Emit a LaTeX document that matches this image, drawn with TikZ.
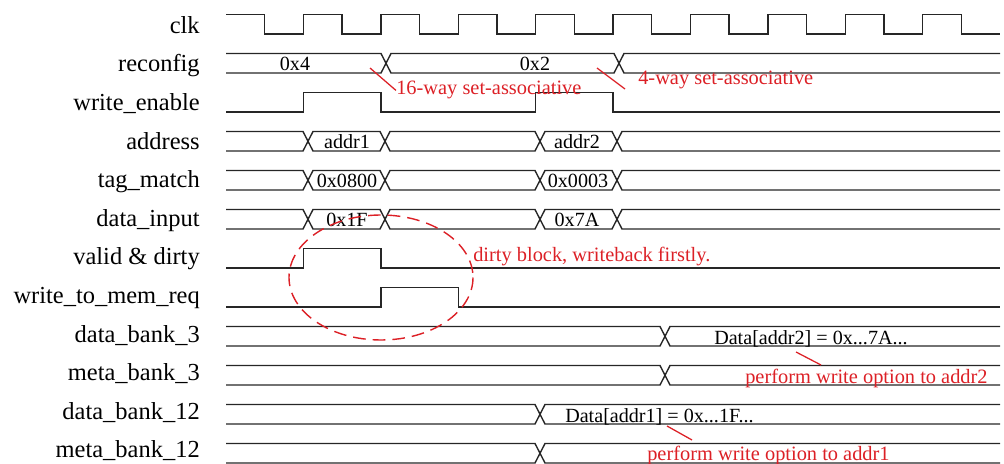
\documentclass[tikz,border=0pt]{standalone}
\usepackage{fontspec}
\setmainfont{Liberation Serif}
\usepackage{tikz}
\usepackage{xcolor}
\definecolor{annot}{RGB}{220,32,38}

\tikzset{
  sig/.style={line width=1pt, black!85},
  lbl/.style={anchor=base east, inner sep=0pt, font=\fontsize{17.4}{20}\selectfont},
  val/.style={anchor=base, inner sep=0pt, font=\fontsize{14.3}{16}\selectfont},
  valw/.style={anchor=base west, inner sep=0pt, font=\fontsize{14.3}{16}\selectfont},
  note/.style={anchor=base west, inner sep=0pt, text=annot, font=\fontsize{14.5}{16}\selectfont},
  lead/.style={draw=annot, line width=0.9pt},
}

\begin{document}
\begin{tikzpicture}[x=0.025cm, y=-0.025cm]
  \useasboundingbox (0,0) rectangle (1004,464);

  % signal names
  \foreach \name [count=\i from 0] in {clk, reconfig, write\_enable, address, tag\_match,
      data\_input, valid \& dirty, write\_to\_mem\_req, data\_bank\_3, meta\_bank\_3,
      data\_bank\_12, meta\_bank\_12}
    \node[lbl] (lbl\i) at (200, 33.3+38.6*\i) {\name};

  % clk
  \draw[sig] (226,14.5) foreach \k in {1,...,9} { -- ++(38.7,0) -- ++(0,19.5) -- ++(38.7,0) -- ++(0,-19.5) }
    -- ++(38.7,0) -- ++(0,19.5) -- ++(38.7,0);

  % reconfig
  \draw[sig] (226,53.5) -- (381,53.5) -- (391,73) -- (614,73) -- (624,53.5) -- (1000,53.5);
  \draw[sig] (226,73) -- (381,73) -- (391,53.5) -- (614,53.5) -- (624,73) -- (1000,73);
  \node[val] (cfg4) at (295,71) {0x4};
  \node[val] (cfg2) at (535,71) {0x2};

  % write_enable
  \draw[sig] (226,112) -| (303.4,92.5) -| (380.8,112) -| (535.6,92.5) -| (613,112) -- (1000,112);

  % address, tag_match, data_input
  \foreach \yt in {131.5,170.5,209.5} {
    \draw[sig] (226,\yt) -- (303,\yt) -- (313,\yt+19.5) -- (380,\yt+19.5) -- (390,\yt) -- (535,\yt)
      -- (545,\yt+19.5) -- (612,\yt+19.5) -- (622,\yt) -- (1000,\yt);
    \draw[sig] (226,\yt+19.5) -- (303,\yt+19.5) -- (313,\yt) -- (380,\yt) -- (390,\yt+19.5)
      -- (535,\yt+19.5) -- (545,\yt) -- (612,\yt) -- (622,\yt+19.5) -- (1000,\yt+19.5);
  }
  \node[val] (addr1) at (347,148.5) {addr1};
  \node[val] (addr2) at (577,148.5) {addr2};
  \node[val] (tag1) at (347,187.5) {0x0800};
  \node[val] (tag2) at (578,187.5) {0x0003};
  \node[val] (din1) at (347,226.5) {0x1F};
  \node[val] (din2) at (577,226.5) {0x7A};

  % valid & dirty, write_to_mem_req
  \draw[sig] (226,268) -| (303.4,248.5) -| (380.8,268) -- (1000,268);
  \draw[sig] (226,307) -| (380.8,287.5) -| (458.2,307) -- (1000,307);

  % banks
  \foreach \yt in {326.5,365.5} {
    \draw[sig] (226,\yt) -- (660,\yt) -- (670,\yt+19.5) -- (1000,\yt+19.5);
    \draw[sig] (226,\yt+19.5) -- (660,\yt+19.5) -- (670,\yt) -- (1000,\yt);
  }
  \foreach \yt in {404.5,443.5} {
    \draw[sig] (226,\yt) -- (535,\yt) -- (545,\yt+19.5) -- (1000,\yt+19.5);
    \draw[sig] (226,\yt+19.5) -- (535,\yt+19.5) -- (545,\yt) -- (1000,\yt);
  }
  \node[valw] (bank3) at (714,344) {Data[addr2] = 0x...7A...};
  \node[valw] (bank12) at (565,422) {Data[addr1] = 0x...1F...};

  % annotations
  \node[note] (way16) at (396,95) {16-way set-associative};
  \node[note] (way4) at (638,85) {4-way set-associative};
  \node[note] (dirty) at (473,261.5) {dirty block, writeback firstly.};
  \node[note] (wr2) at (745,383) {perform write option to addr2};
  \node[note] (wr1) at (647,460) {perform write option to addr1};

  \coordinate (p16) at (370,68);
  \draw[lead] (p16) -- (way16.west);
  \coordinate (p4a) at (597,68);
  \coordinate (p4b) at (625,89);
  \draw[lead] (p4a) -- (p4b);
  \coordinate (p2a) at (796,352);
  \coordinate (p2b) at (821,365);
  \draw[lead] (p2a) -- (p2b);
  \coordinate (p1a) at (667,426);
  \coordinate (p1b) at (692,440);
  \draw[lead] (p1a) -- (p1b);

  \draw[annot, line width=1pt, dash pattern=on 9pt off 5pt] (381,277.5) ellipse [x radius=92, y radius=62.5];
\end{tikzpicture}
\end{document}
